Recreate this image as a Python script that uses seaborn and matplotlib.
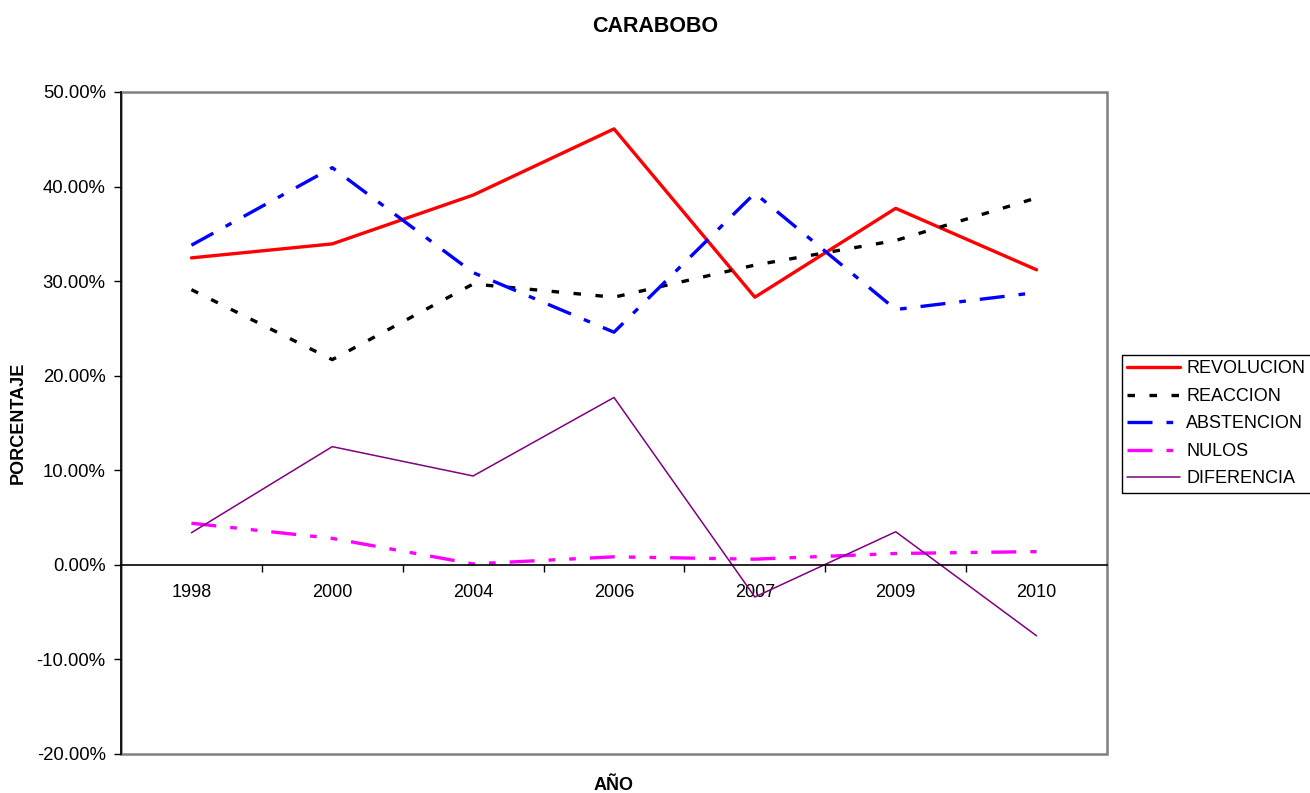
import matplotlib
matplotlib.use("Agg")
import matplotlib.pyplot as plt
from matplotlib.ticker import FuncFormatter, FixedLocator
import seaborn as sns
import pandas as pd

# --- data ---
years = ["1998", "2000", "2004", "2006", "2007", "2009", "2010"]
revolucion = [0.3246, 0.3394, 0.3910, 0.4610, 0.2830, 0.3770, 0.3120]
reaccion = [0.2910, 0.2170, 0.2970, 0.2830, 0.3170, 0.3430, 0.3880]
abstencion = [0.3380, 0.4200, 0.3090, 0.2460, 0.3930, 0.2700, 0.2880]
nulos = [0.0440, 0.0280, 0.0010, 0.0085, 0.0060, 0.0120, 0.0140]
diferencia = [0.0340, 0.1250, 0.0940, 0.1770, -0.0340, 0.0350, -0.0750]

series = ["REVOLUCION", "REACCION", "ABSTENCION", "NULOS", "DIFERENCIA"]
values = [revolucion, reaccion, abstencion, nulos, diferencia]

df = pd.DataFrame({
    "year": years * len(series),
    "serie": [s for s in series for _ in years],
    "value": [v for vals in values for v in vals],
})

colors = {"REVOLUCION": "#FF0000", "REACCION": "#000000", "ABSTENCION": "#0000FF",
          "NULOS": "#FF00FF", "DIFERENCIA": "#800080"}
dashes = {"REVOLUCION": "", "REACCION": (2.25, 4.35),
          "ABSTENCION": (7.5, 4.2, 2.0, 4.2),
          "NULOS": (7.5, 4.2, 2.0, 4.2, 2.0, 4.2), "DIFERENCIA": ""}
widths = {"REVOLUCION": 2.4, "REACCION": 2.4, "ABSTENCION": 2.4,
          "NULOS": 2.4, "DIFERENCIA": 1.1}

# --- plot ---
sns.set_theme(style="white")
plt.rcParams["font.family"] = ["Liberation Sans", "DejaVu Sans"]
plt.rcParams.update({"text.color": "black", "axes.labelcolor": "black",
                     "xtick.color": "black", "ytick.color": "black"})

fig = plt.figure(figsize=(13.1, 7.93), dpi=100)
ax = fig.add_axes([121 / 1310, 39 / 793, 986 / 1310, 662 / 793])

sns.lineplot(data=df, x="year", y="value", hue="serie", style="serie", size="serie",
             palette=colors, dashes=dashes, sizes=widths, hue_order=series,
             style_order=series, size_order=series, sort=False, legend=False, ax=ax)

ax.set_xlim(-0.5, 6.5)
ax.set_ylim(-0.2, 0.5)
ax.yaxis.set_major_locator(FixedLocator([-0.2, -0.1, 0, 0.1, 0.2, 0.3, 0.4, 0.5]))
ax.yaxis.set_major_formatter(FuncFormatter(lambda v, p: f"{v * 100:.2f}%"))

# category axis crossing at zero, ticks between categories
ax.spines["bottom"].set_position(("data", 0))
ax.spines["bottom"].set_color("black")
ax.spines["left"].set_color("black")
for s in ["bottom", "left"]:
    ax.spines[s].set_linewidth(1.2)
ax.spines["top"].set_visible(False)
ax.spines["right"].set_visible(False)
ax.patch.set_edgecolor("#808080")
ax.patch.set_linewidth(1.8)

ax.set_xticks(range(len(years)))
ax.set_xticklabels(years)
ax.set_xticks([i + 0.5 for i in range(len(years) - 1)], minor=True)
ax.tick_params(axis="x", which="major", length=0, pad=14, labelsize=13, colors="black")
ax.tick_params(axis="x", which="minor", bottom=True, length=5, width=1, direction="out", color="black")
ax.tick_params(axis="y", which="major", left=True, length=5, width=1, direction="out",
               pad=6, labelsize=13.3, color="black")

ax.set_xlabel("AÑO", fontsize=13, fontweight="bold", va="center")
ax.xaxis.set_label_coords(0.5, (754 - 785) / 662)
ax.set_ylabel("PORCENTAJE", fontsize=13, fontweight="bold", va="center")
ax.yaxis.set_label_coords((18 - 121) / 986, 0.5)

fig.suptitle("CARABOBO", x=0.5, y=1 - 27 / 793, va="center", fontsize=15.5, fontweight="bold")

leg = ax.legend(ax.lines[:len(series)], series, loc="upper left",
                bbox_to_anchor=(1122 / 1310, 1 - 355 / 793), bbox_transform=fig.transFigure,
                fontsize=13, frameon=True, fancybox=False, framealpha=1, borderaxespad=0,
                handlelength=2.9, handletextpad=0.35, labelspacing=0.58, borderpad=0.3)
leg.get_frame().set_edgecolor("black")
leg.get_frame().set_linewidth(1.0)

fig.savefig("out.png", dpi=100)
